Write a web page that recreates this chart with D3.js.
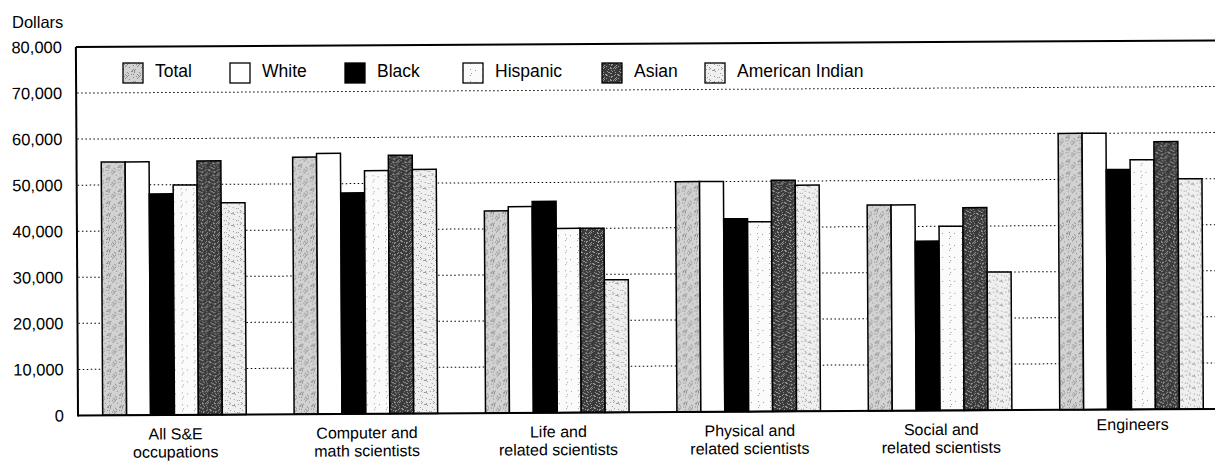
<!DOCTYPE html>
<html><head><meta charset="utf-8">
<script src="https://cdn.jsdelivr.net/npm/d3@7"></script>
<style>body{margin:0;background:#fff}text{font-family:"Liberation Sans",Arial,sans-serif;fill:#000}</style>
</head><body><svg id="c" width="1215" height="462"></svg>
<script>
const categories = [["All S&E","occupations"],["Computer and","math scientists"],["Life and","related scientists"],["Physical and","related scientists"],["Social and","related scientists"],["Engineers"]];
const seriesNames = ["Total","White","Black","Hispanic","Asian","American Indian"];
const total    = [55000, 55800, 43900, 50000, 44700, 60000];
const white    = [55000, 56600, 44800, 50000, 44700, 60000];
const black    = [48000, 48000, 45900, 41900, 36800, 52100];
const hispanic = [49900, 52800, 40000, 41200, 40000, 54200];
const asian    = [55100, 56100, 40000, 50200, 44000, 58100];
const amIndian = [46000, 53000, 28800, 49100, 30000, 50000];
const yTicks = [0,10000,20000,30000,40000,50000,60000,70000,80000];

const series = [total, white, black, hispanic, asian, amIndian];
const fills = ["url(#pTotal)","#ffffff","#000000","url(#pHisp)","url(#pAsian)","url(#pAmInd)"];

const svg = d3.select("#c");
const defs = svg.append("defs");
function pat(id, bg, dot, n, seed){
  const p = defs.append("pattern").attr("id",id).attr("patternUnits","userSpaceOnUse").attr("width",12).attr("height",12);
  p.append("rect").attr("width",12).attr("height",12).attr("fill",bg);
  let s = seed;
  for(let i=0;i<n;i++){ s=(s*9301+49297)%233280; const x=Math.floor(s/233280*12); s=(s*9301+49297)%233280; const y=Math.floor(s/233280*12);
    p.append("rect").attr("x",x).attr("y",y).attr("width",1).attr("height",1).attr("fill",dot);}
}
pat("pTotal","#d2d2d2","#8a8a8a",26,7);
pat("pHisp","#fbfbfb","#999",4,11);
pat("pAsian","#3a3a3a","#9a9a9a",30,3);
pat("pAmInd","#efefef","#999",14,5);

const x0 = d3.scaleBand().domain(d3.range(categories.length)).range([78,1228]).paddingInner(0.25).paddingOuter(0.129);
const x1 = d3.scaleBand().domain(d3.range(seriesNames.length)).range([0,x0.bandwidth()]);
const y = d3.scaleLinear().domain([0,80000]).range([415.5,47]);

// whole plot slightly tilted like the scanned original
const plot = svg.append("g").attr("transform","rotate(-0.33,78,415)");

// gridlines
plot.append("g").selectAll("line").data(yTicks.filter(t=>t>0&&t<80000)).join("line")
  .attr("x1",79).attr("x2",1230).attr("y1",d=>y(d)).attr("y2",d=>y(d))
  .attr("stroke","#000").attr("stroke-width",1).attr("stroke-dasharray","1.5,2.5");

// axis
const ax = plot.append("g").attr("transform","translate(78,0)").call(d3.axisLeft(y).tickValues(yTicks).tickFormat(d3.format(",")).tickSize(0).tickPadding(14));
ax.select(".domain").remove();
ax.selectAll("text").attr("font-size",16.5).attr("font-family","Liberation Sans, Arial, sans-serif").attr("fill","#000");
svg.append("text").attr("x",12).attr("y",28).attr("font-size",16.5).text("Dollars");

// bars
const g = plot.append("g");
series.forEach((vals,si)=>{
  g.selectAll(null).data(vals).join("rect")
    .attr("x",(d,i)=>x0(i)+x1(si)).attr("width",x1.bandwidth())
    .attr("y",d=>y(d)).attr("height",d=>y(0)-y(d))
    .attr("fill",fills[si]).attr("stroke","#000").attr("stroke-width",1.5);
});

// frame
plot.append("line").attr("x1",78).attr("x2",1230).attr("y1",y(80000)).attr("y2",y(80000)).attr("stroke","#000").attr("stroke-width",2);
plot.append("line").attr("x1",78).attr("x2",78).attr("y1",y(80000)).attr("y2",y(0)+1).attr("stroke","#000").attr("stroke-width",2);
plot.append("line").attr("x1",78).attr("x2",1230).attr("y1",y(0)).attr("y2",y(0)).attr("stroke","#000").attr("stroke-width",2);

// category labels
categories.forEach((lines,i)=>{
  const cx = x0(i)+x0.bandwidth()/2 + 1;
  const base = lines.length===1 ? 436 : 440;
  lines.forEach((l,j)=>plot.append("text").attr("text-anchor","middle").attr("font-size",16)
    .attr("x",cx).attr("y",base+j*18).text(l));
});

// legend
const legX = [123,230,345,463,602,705];
const lg = svg.append("g");
seriesNames.forEach((n,i)=>{
  lg.append("rect").attr("x",legX[i]).attr("y",63).attr("width",20).attr("height",20)
    .attr("fill",fills[i]).attr("stroke","#000").attr("stroke-width",1.3);
  lg.append("text").attr("x",legX[i]+32).attr("y",77).attr("font-size",17.5).text(n);
});
</script></body></html>
